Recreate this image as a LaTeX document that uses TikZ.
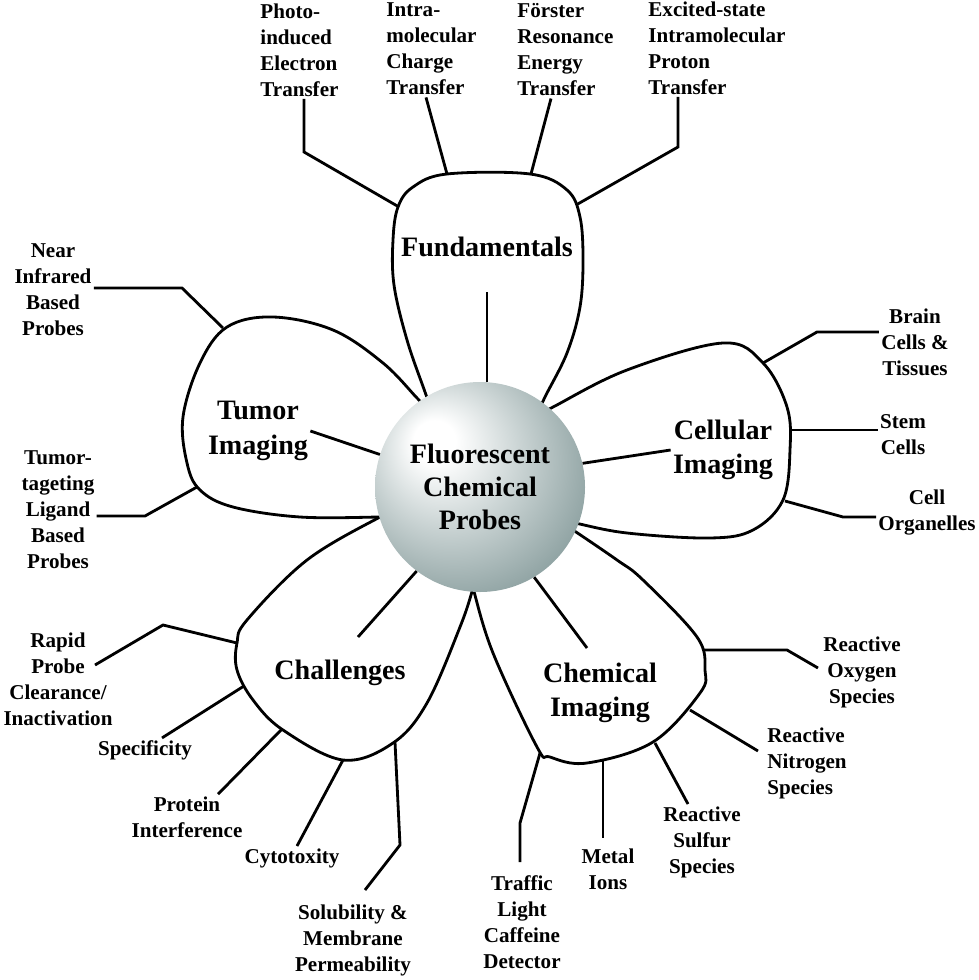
\documentclass[tikz,border=0pt]{standalone}
\usepackage{fontspec}
\setmainfont{Liberation Serif}
\usepackage{tikz}
\definecolor{sphlt}{RGB}{200,210,210}
\definecolor{sph}{RGB}{135,156,156}
\definecolor{sphdk}{RGB}{92,114,114}
\pgfdeclareradialshading{pearl}{\pgfpoint{-12bp}{12bp}}{color(0bp)=(white); color(5bp)=(white); color(18bp)=(sphlt); color(34bp)=(sph); color(52bp)=(sphdk)}

\begin{document}
\begin{tikzpicture}[
  x=0.25mm, y=-0.25mm,
  petal/.style={line width=2pt, line join=round},
  link/.style={line width=2pt},
  lbl/.style={font=\fontsize{15}{18.5}\selectfont\bfseries, align=center, inner sep=1.5pt},
  head/.style={font=\fontsize{20}{24.5}\selectfont\bfseries, align=center, inner sep=1.5pt},
  pearlball/.style={circle, minimum size=52.5mm, inner sep=0pt, shading=pearl, align=center, font=\fontsize{20}{23.5}\selectfont\bfseries}
]
\useasboundingbox (0,0) rectangle (979,980);

% petals
\draw[petal] plot[smooth, tension=0.6] coordinates {(437,425) (425,392) (407,340) (394,285) (393,240) (398,207) (413,187) (447,174) (530,174) (567,190) (580,217) (583,260) (580,307) (567,353) (545,397) (532,425)};
\draw[petal] plot[smooth, tension=0.6] coordinates {(427,408) (417,398) (383,363) (333,330) (273,317) (227,327) (200,363) (183,417) (187,463) (200,490) (233,507) (300,517) (380,517) (400,516)};
\draw[petal] plot[smooth, tension=0.6] coordinates {(540,415) (555,406) (627,370) (723,343) (763,363) (787,407) (790,450) (783,500) (753,530) (710,538) (627,533) (575,523) (560,520)};
\draw[petal] plot[smooth, tension=0.6] coordinates {(395,512) (380,517) (307,560) (247,620) (237,643) (237,670) (253,700) (283,730) (343,760) (393,743) (427,703) (460,627) (473,588) (475,575)};
\draw[petal] plot[smooth, tension=0.6] coordinates {(470,575) (473,588) (493,653) (537,747) (550,757) (587,763) (653,742) (700,693) (705,670) (697,637) (643,580) (617,560) (573,530) (560,522)};

\node[pearlball] (core) at (480,487) {Fluorescent\\Chemical\\Probes};

\node[head] (fund) at (487,247) {Fundamentals};
\node[head] (tumor) at (258,431) {Tumor\\Imaging};
\node[head] (cell) at (723,450) {Cellular\\Imaging};
\node[head] (chall) at (340,673) {Challenges};
\node[head] (chem) at (600,693) {Chemical\\Imaging};

\node[lbl, align=left, anchor=west] (pet) at (258,50) {Photo-\\induced\\Electron\\Transfer};
\node[lbl, align=left, anchor=west] (ict) at (384,49) {Intra-\\molecular\\Charge\\Transfer};
\node[lbl, align=left, anchor=west] (fret) at (515,50) {Förster\\Resonance\\Energy\\Transfer};
\node[lbl, align=left, anchor=west] (esipt) at (646,48) {Excited-state\\Intramolecular\\Proton\\Transfer};
\node[lbl] (nir) at (53,290) {Near\\Infrared\\Based\\Probes};
\node[lbl] (tlig) at (58,510) {Tumor-\\tageting\\Ligand\\Based\\Probes};
\node[lbl] (brain) at (915,342) {Brain\\Cells \&\\Tissues};
\node[lbl] (stem) at (903,435) {Stem\\Cells};
\node[lbl] (organ) at (927,513) {Cell\\Organelles};
\node[lbl] (rapid) at (58,679) {Rapid\\Probe\\Clearance/\\Inactivation};
\node[lbl] (spec) at (145,750) {Specificity};
\node[lbl] (prot) at (187,817) {Protein\\Interference};
\node[lbl] (cyto) at (292,858) {Cytotoxity};
\node[lbl] (solu) at (353,940) {Solubility \&\\Membrane\\Permeability};
\node[lbl] (ros) at (862,672) {Reactive\\Oxygen\\Species};
\node[lbl, align=left, anchor=west] (rns) at (765,763) {Reactive\\Nitrogen\\Species};
\node[lbl] (rss) at (702,842) {Reactive\\Sulfur\\Species};
\node[lbl] (metal) at (608,869) {Metal\\Ions};
\node[lbl] (traffic) at (522,922) {Traffic\\Light\\Caffeine\\Detector};

\coordinate (fa1) at (399,207);
\coordinate (fa2) at (447,174);
\coordinate (fa3) at (531,174);
\coordinate (fa4) at (576,205);
\coordinate (ta1) at (223,328);
\coordinate (ta2) at (197,487);
\coordinate (ca1) at (763,363);
\coordinate (ca2) at (790,430);
\coordinate (ca3) at (785,501);
\coordinate (ha1) at (237,643);
\coordinate (ha2) at (244,686);
\coordinate (ha3) at (282,729);
\coordinate (ha4) at (343,760);
\coordinate (ha5) at (395,742);
\coordinate (ma1) at (703,650);
\coordinate (ma2) at (690,710);
\coordinate (ma3) at (655,743);
\coordinate (ma4) at (603,761);
\coordinate (ma5) at (540,753);
\coordinate (fund-t) at (487,292);
\coordinate (chall-t) at (358,637);
\coordinate (chem-t) at (587,648);
\coordinate (rapid-t) at (95,665);
\coordinate (solu-t) at (365,890);
\coordinate (ros-t) at (818,668);
\coordinate (rns-t) at (758,751);
\coordinate (metal-t) at (603,838);
\coordinate (traffic-t) at (520,862);

\draw[link] (fund-t) -- (fund-t |- core.north);
\draw[link] (tumor.east) -- (core.162);
\draw[link] (cell.west) -- (core.13);
\draw[link] (chall-t) -- (core.-127);
\draw[link] (chem-t) -- (core.-59);

\draw[link] (fa1) -- (304,152) -- (304,0 |- pet.south);
\draw[link] (fa2) -- (426,0 |- ict.south);
\draw[link] (fa3) -- (551,0 |- fret.south);
\draw[link] (fa4) -- (678,147) -- (678,0 |- esipt.south);
\draw[link] (ta1) -- (182,288) -- (nir.east |- 0,288);
\draw[link] (ta2) -- (145,516) -- (tlig.east |- 0,516);
\draw[link] (ca1) -- (817,332) -- (brain.west |- 0,332);
\draw[link] (ca2) -- (stem.west |- ca2);
\draw[link] (ca3) -- (843,517) -- (organ.west |- 0,517);
\draw[link] (ha1) -- (163,625) -- (rapid-t);
\draw[link] (ha2) -- (162,0 |- spec.north);
\draw[link] (ha3) -- (218,0 |- prot.north);
\draw[link] (ha4) -- (297,0 |- cyto.north);
\draw[link] (ha5) -- (400,845) -- (solu-t);
\draw[link] (ma1) -- (787,650) -- (ros-t);
\draw[link] (ma2) -- (rns-t);
\draw[link] (ma3) -- (688,0 |- rss.north);
\draw[link] (ma4) -- (metal-t);
\draw[link] (ma5) -- (520,823) -- (traffic-t);
\end{tikzpicture}
\end{document}
